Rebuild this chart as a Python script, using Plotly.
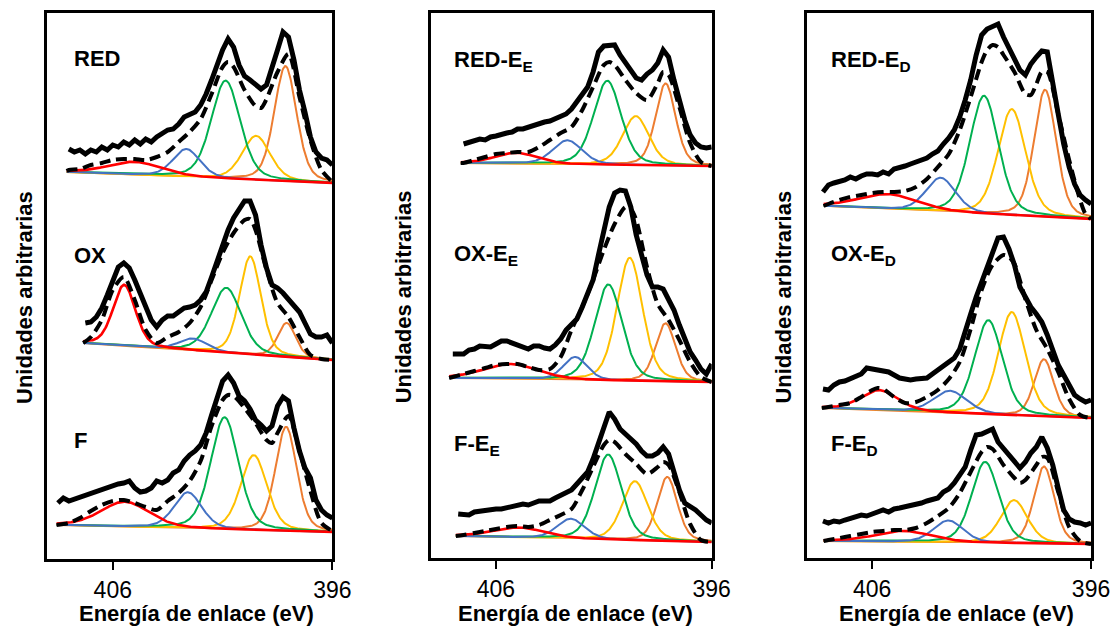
import numpy as np
import plotly.graph_objects as go

# layout positions below are given in reference-picture pixels (1118 x 626);
# the figure is made slightly wider to compensate the horizontal scaling of the page capture
REF_W, H = 1118, 626
W = 1135

# ---------------- data ----------------
TICKS = [406, 396]          # energy tick labels (eV)
STEP = 0.25                 # spacing of the experimental points (eV)

P1_LABELS = ["RED", "OX", "F"]
P2_LABELS = ["RED-E<sub>E</sub>", "OX-E<sub>E</sub>", "F-E<sub>E</sub>"]
P3_LABELS = ["RED-E<sub>D</sub>", "OX-E<sub>D</sub>", "F-E<sub>D</sub>"]

# vertical offset of each spectrum (arb. units)
P1_OFFSETS = [376, 199, 27]
P2_OFFSETS = [392, 176, 16]
P3_OFFSETS = [339, 140, 14]

# first energy of each experimental spectrum (eV); points every STEP down to 396
P1_EXP_START = [408.0, 407.25, 408.5]
P2_EXP_START = [407.5, 408.0, 407.75]
P3_EXP_START = [408.25, 408.25, 408.25]

# experimental intensities
RED_exp = [34, 31, 33, 29, 33, 31, 36, 33, 38, 36, 41, 38, 43, 39, 44, 41, 46, 49, 53, 54,
           59, 66, 68, 71, 78, 89, 103, 118, 133, 144, 136, 118, 107, 103, 98, 94, 98, 114, 133, 151,
           146, 123, 93, 71, 46, 31, 25, 23, 18]
OX_exp = [37, 38, 43, 52, 65, 80, 93, 97, 92, 80, 67, 52, 40, 33, 40, 44, 44, 48, 52, 53,
          55, 60, 68, 83, 100, 117, 130, 142, 150, 159, 159, 145, 115, 92, 75, 72, 67, 60, 53, 48,
          37, 26, 23, 23, 25, 17]
F_exp = [29, 34, 31, 33, 35, 37, 38, 41, 43, 45, 47, 48, 49, 51, 44, 40, 41, 44, 51, 49,
         52, 59, 62, 71, 77, 81, 87, 99, 117, 134, 151, 157, 149, 136, 131, 123, 112, 107, 101, 106,
         126, 135, 131, 104, 81, 64, 54, 32, 22, 17, 14]
REDEE_exp = [22, 24, 26, 27, 26, 29, 30, 32, 33, 34, 37, 37, 39, 41, 43, 44, 45, 47, 49, 52,
             57, 64, 71, 79, 94, 114, 120, 120, 121, 111, 104, 95, 88, 86, 92, 96, 103, 116, 109, 86,
             66, 46, 31, 23, 19, 18, 19]
OXEE_exp = [28, 28, 28, 32, 33, 36, 36, 35, 38, 41, 41, 39, 36, 35, 33, 36, 36, 34, 33, 37,
            43, 52, 58, 63, 75, 87, 102, 127, 152, 175, 189, 192, 191, 175, 147, 125, 107, 95, 95, 93,
            83, 72, 57, 43, 30, 22, 13, 8, 18]
FEE_exp = [28, 28, 27, 30, 31, 31, 32, 33, 33, 34, 36, 37, 38, 37, 39, 41, 41, 41, 44, 47,
           50, 52, 58, 65, 70, 83, 100, 117, 130, 123, 113, 108, 103, 98, 91, 86, 86, 89, 95, 88,
           70, 52, 39, 36, 32, 27, 22, 19]
REDED_exp = [27, 34, 36, 37, 39, 42, 40, 43, 45, 45, 44, 47, 45, 50, 51, 53, 55, 57, 59, 61,
             65, 68, 75, 81, 89, 102, 119, 139, 164, 184, 190, 193, 195, 182, 170, 160, 149, 144, 155, 162,
             168, 167, 139, 105, 75, 52, 35, 24, 19, 15]
OXED_exp = [29, 28, 33, 36, 37, 39, 41, 44, 50, 49, 48, 47, 46, 43, 40, 39, 38, 39, 39, 40,
            44, 48, 52, 56, 60, 69, 88, 104, 121, 136, 153, 168, 180, 181, 169, 153, 131, 121, 111, 104,
            96, 83, 68, 53, 43, 33, 23, 19, 16, 18]
FED_exp = [23, 21, 23, 22, 24, 26, 27, 29, 28, 30, 32, 34, 32, 35, 36, 37, 39, 39, 41, 43,
           45, 46, 52, 55, 61, 68, 77, 94, 109, 110, 113, 115, 102, 95, 89, 81, 76, 82, 91, 97,
           107, 96, 79, 56, 34, 25, 22, 21, 19, 21]

# fit envelope (dashed): [eV, intensity] pairs
RED_env = [[408.1, 12], [408.0, 13], [407.5, 14], [407.0, 18], [406.5, 20], [406.0, 23], [405.5, 24],
           [405.0, 24], [404.5, 23], [404.0, 26], [403.5, 31], [403.0, 41], [402.5, 51], [402.0, 64],
           [401.5, 89], [401.0, 116], [400.75, 121], [400.5, 116], [400.0, 93], [399.5, 77], [399.25, 75],
           [399.0, 84], [398.5, 111], [398.0, 129], [397.5, 86], [397.0, 43], [396.5, 13], [396.0, 1]]
OX_env = [[407.35, 17], [407.0, 23], [406.5, 40], [406.0, 70], [405.5, 83], [405.0, 60], [404.5, 30],
          [404.0, 17], [403.5, 23], [403.0, 28], [402.5, 37], [402.0, 53], [401.5, 80], [401.0, 107],
          [400.5, 127], [400.0, 140], [399.75, 141], [399.5, 130], [399.0, 90], [398.5, 57], [398.0, 43],
          [397.5, 23], [397.0, 5], [396.5, 1], [396.0, 0]]
F_env = [[408.56, 7], [408.0, 9], [407.5, 14], [407.0, 21], [406.5, 27], [406.0, 31], [405.5, 32],
         [405.0, 29], [404.5, 25], [404.0, 22], [403.5, 31], [403.0, 39], [402.5, 51], [402.0, 71],
         [401.5, 106], [401.0, 132], [400.75, 137], [400.5, 136], [400.0, 124], [399.5, 109], [399.0, 92],
         [398.75, 89], [398.5, 99], [398.0, 116], [397.5, 81], [397.0, 41], [396.5, 9], [396.0, 1]]
REDEE_env = [[407.63, 3], [407.5, 3], [407.0, 6], [406.5, 9], [406.0, 12], [405.5, 13], [405.0, 14],
             [404.5, 14], [404.0, 19], [403.5, 26], [403.0, 33], [402.5, 39], [402.0, 56], [401.5, 79],
             [401.0, 101], [400.75, 104], [400.5, 101], [400.0, 86], [399.5, 73], [399.0, 66], [398.5, 83],
             [398.25, 94], [398.0, 91], [397.5, 59], [397.0, 23], [396.5, 4], [396.0, 0]]
OXEE_env = [[408.17, 4], [408.0, 5], [407.5, 8], [407.0, 11], [406.5, 14], [406.0, 17], [405.5, 18],
            [405.0, 18], [404.5, 15], [404.0, 12], [403.5, 13], [403.0, 25], [402.5, 52], [402.0, 75],
            [401.5, 102], [401.0, 132], [400.5, 158], [400.0, 175], [399.75, 173], [399.5, 162],
            [399.0, 115], [398.5, 78], [398.0, 62], [397.5, 42], [397.0, 20], [396.5, 5], [396.0, 0]]
FEE_env = [[407.86, 6], [407.5, 7], [407.0, 9], [406.5, 11], [406.0, 13], [405.5, 15], [405.0, 16],
           [404.5, 15], [404.0, 17], [403.5, 22], [403.0, 27], [402.5, 33], [402.0, 52], [401.5, 75],
           [401.0, 97], [400.75, 102], [400.5, 100], [400.0, 88], [399.5, 78], [399.0, 68], [398.5, 75],
           [398.25, 80], [398.0, 77], [397.5, 50], [397.0, 18], [396.5, 2], [396.0, 0]]
REDED_env = [[408.22, 13], [408.0, 15], [407.5, 19], [407.0, 22], [406.5, 24], [406.0, 26], [405.5, 27],
             [405.0, 27], [404.5, 28], [404.0, 32], [403.5, 40], [403.0, 52], [402.5, 65], [402.0, 89],
             [401.5, 122], [401.0, 157], [400.75, 169], [400.5, 174], [400.25, 172], [400.0, 164],
             [399.5, 147], [399.0, 125], [398.75, 124], [398.5, 135], [398.25, 147], [398.0, 147],
             [397.5, 105], [397.0, 59], [396.5, 19], [396.25, 5], [396.0, 0]]
OXED_env = [[408.3, 10], [408.0, 11], [407.5, 13], [407.0, 15], [406.5, 21], [406.0, 28], [405.75, 30],
            [405.5, 29], [405.0, 21], [404.5, 15], [404.0, 16], [403.5, 21], [403.0, 28], [402.5, 39],
            [402.0, 56], [401.5, 89], [401.0, 128], [400.5, 153], [400.0, 163], [399.75, 161],
            [399.5, 154], [399.0, 119], [398.5, 88], [398.0, 69], [397.5, 46], [397.0, 19], [396.5, 3],
            [396.0, 0]]
FED_env = [[408.22, 3], [408.0, 4], [407.5, 6], [407.0, 8], [406.5, 10], [406.0, 12], [405.5, 13],
           [405.0, 14], [404.5, 14], [404.0, 16], [403.5, 21], [403.0, 28], [402.5, 36], [402.0, 51],
           [401.5, 72], [401.0, 92], [400.75, 97], [400.5, 95], [400.0, 79], [399.5, 66], [399.25, 61],
           [399.0, 64], [398.5, 79], [398.25, 87], [398.0, 86], [397.5, 52], [397.0, 17], [396.5, 3],
           [396.0, 0]]

# fitted background: [start energy (eV), height at start]; zero at 396 eV
RED_bg = [408.1, 11]
OX_bg = [407.35, 17]
F_bg = [408.56, 7]
REDEE_bg = [407.63, 3]
OXEE_bg = [408.17, 4]
FEE_bg = [407.86, 6]
REDED_bg = [408.22, 13]
OXED_bg = [408.3, 10]
FED_bg = [408.22, 3]

# fitted components [centre eV, height, FWHM eV] : red, blue, green, yellow, orange
RED_fit = [[405.0, 13, 2.9], [402.65, 28, 1.45], [400.86, 98, 1.55], [399.47, 44, 1.5], [398.14, 115, 1.2]]
OX_fit = [[405.48, 61, 1.2], [402.35, 12, 1.5], [400.83, 65, 1.6], [399.74, 98, 1.15], [398.08, 34, 0.95]]
F_fit = [[405.45, 25, 2.6], [402.58, 36, 1.5], [400.91, 112, 1.5], [399.58, 75, 1.4], [398.11, 104, 1.15]]
REDEE_fit = [[405.08, 11, 2.3], [402.69, 24, 1.6], [400.84, 84, 1.5], [399.52, 49, 1.45], [398.14, 82, 1.1]]
OXEE_fit = [[405.31, 15, 3.0], [402.33, 23, 1.3], [400.79, 96, 1.5], [399.80, 123, 1.4], [398.14, 58, 1.1]]
FEE_fit = [[404.93, 10, 2.8], [402.53, 20, 1.5], [400.80, 85, 1.45], [399.56, 59, 1.4], [398.06, 64, 1.1]]
REDED_fit = [[405.26, 15, 3.2], [402.87, 34, 1.6], [400.89, 118, 1.55], [399.62, 106, 1.5], [398.10, 127, 1.2]]
OXED_fit = [[405.67, 20, 2.0], [402.44, 22, 1.8], [400.69, 94, 1.5], [399.62, 103, 1.45], [398.15, 57, 1.05]]
FED_fit = [[404.57, 11, 3.0], [402.52, 22, 1.6], [400.84, 81, 1.45], [399.52, 43, 1.45], [398.15, 77, 1.1]]

PANELS = [
    dict(labels=P1_LABELS, offsets=P1_OFFSETS, starts=P1_EXP_START,
         exp=[RED_exp, OX_exp, F_exp], env=[RED_env, OX_env, F_env],
         bg=[RED_bg, OX_bg, F_bg], fit=[RED_fit, OX_fit, F_fit]),
    dict(labels=P2_LABELS, offsets=P2_OFFSETS, starts=P2_EXP_START,
         exp=[REDEE_exp, OXEE_exp, FEE_exp], env=[REDEE_env, OXEE_env, FEE_env],
         bg=[REDEE_bg, OXEE_bg, FEE_bg], fit=[REDEE_fit, OXEE_fit, FEE_fit]),
    dict(labels=P3_LABELS, offsets=P3_OFFSETS, starts=P3_EXP_START,
         exp=[REDED_exp, OXED_exp, FED_exp], env=[REDED_env, OXED_env, FED_env],
         bg=[REDED_bg, OXED_bg, FED_bg], fit=[REDED_fit, OXED_fit, FED_fit]),
]

# ---------------- style / layout ----------------
COMP_COLORS = ["#FF0000", "#4472C4", "#00B050", "#FFC000", "#ED7D31"]
FONT = "Arial, 'Liberation Sans', sans-serif"

# panel boxes in reference pixels: left, right, top, bottom
BOXES = [(47, 333, 13, 559), (432, 713, 13, 558), (808, 1093, 13, 558)]
LABEL_X = [72, 453, 830]
LABEL_Y = [[59, 255, 440], [61, 255, 445], [61, 255, 445]]
YTITLE_X = [24, 404, 784]
XTITLE_X = [197, 577, 958]


def glshape(x, c, a, w, m=0.3):
    t = (x - c) / w
    return a * ((1 - m) * np.exp(-4 * np.log(2) * t ** 2) + m / (1 + 4 * t ** 2))


fig = go.Figure()
annotations = []

for p, panel in enumerate(PANELS):
    xa = "x" if p == 0 else f"x{p+1}"
    ya = "y" if p == 0 else f"y{p+1}"
    for s in range(3):
        off = panel["offsets"][s]
        e0, b0 = panel["bg"][s]
        xc = np.linspace(e0, 396.0, 400)
        base = b0 * (xc - 396.0) / (e0 - 396.0)
        for k in [4, 3, 2, 1, 0]:
            comp = glshape(xc, *panel["fit"][s][k])
            fig.add_trace(go.Scatter(x=xc, y=off + base + comp, mode="lines",
                                     line=dict(color=COMP_COLORS[k], width=2.6 if k == 0 else 2),
                                     xaxis=xa, yaxis=ya, showlegend=False, hoverinfo="skip"))
        env = np.array(panel["env"][s], dtype=float)
        fig.add_trace(go.Scatter(x=env[:, 0], y=off + env[:, 1], mode="lines",
                                 line=dict(color="black", width=4, dash="11px,6px",
                                           shape="spline", smoothing=0.8),
                                 xaxis=xa, yaxis=ya, showlegend=False, hoverinfo="skip"))
        vals = np.array(panel["exp"][s], dtype=float)
        xe = panel["starts"][s] - STEP * np.arange(len(vals))
        fig.add_trace(go.Scatter(x=xe, y=off + vals, mode="lines",
                                 line=dict(color="black", width=5),
                                 xaxis=xa, yaxis=ya, showlegend=False, hoverinfo="skip"))
        annotations.append(dict(text=panel["labels"][s], xref="paper", yref="paper",
                                x=LABEL_X[p] / REF_W, y=1 - LABEL_Y[p][s] / H, xanchor="left",
                                yanchor="middle", showarrow=False,
                                font=dict(family=FONT, size=22, color="black", weight="bold")))
    annotations.append(dict(text="Unidades arbitrarias", xref="paper", yref="paper",
                            x=YTITLE_X[p] / REF_W, y=1 - 297 / H, textangle=-90, xanchor="center",
                            yanchor="middle", showarrow=False,
                            font=dict(family=FONT, size=22, color="black", weight="bold")))
    annotations.append(dict(text="Energía de enlace (eV)", xref="paper", yref="paper",
                            x=XTITLE_X[p] / REF_W, y=1 - 613 / H, xanchor="center", yanchor="middle",
                            showarrow=False,
                            font=dict(family=FONT, size=22, color="black", weight="bold")))

layout = dict(width=W, height=H, autosize=False, margin=dict(l=0, r=0, t=0, b=0, pad=0),
              plot_bgcolor="white", paper_bgcolor="white", annotations=annotations,
              font=dict(family=FONT, color="black"))
for p, (l, r, t, b) in enumerate(BOXES):
    xk = "xaxis" if p == 0 else f"xaxis{p+1}"
    yk = "yaxis" if p == 0 else f"yaxis{p+1}"
    ya = "y" if p == 0 else f"y{p+1}"
    xa = "x" if p == 0 else f"x{p+1}"
    layout[xk] = dict(domain=[l / REF_W, r / REF_W], range=[409, 396], anchor=ya,
                      tickmode="array", tickvals=TICKS, ticktext=[str(v) for v in TICKS],
                      ticks="outside", ticklen=8, tickwidth=2, tickcolor="black",
                      tickfont=dict(family=FONT, size=23, color="black"),
                      showline=True, mirror=True, linewidth=3, linecolor="black",
                      showgrid=False, zeroline=False)
    layout[yk] = dict(domain=[1 - b / H, 1 - t / H], range=[0, b - t], anchor=xa,
                      showticklabels=False, ticks="", showline=True, mirror=True,
                      linewidth=3, linecolor="black", showgrid=False, zeroline=False)

fig.update_layout(**layout)
fig.write_html("out.html",
               config={"responsive": False, "displayModeBar": False},
               post_script="document.body.style.margin='0';document.body.style.overflow='hidden';")
